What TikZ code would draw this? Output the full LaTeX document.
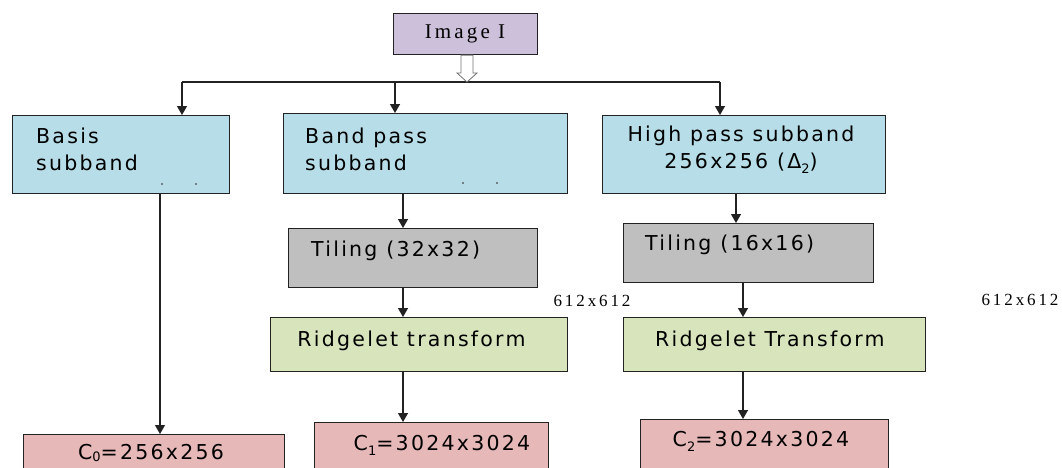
\documentclass[tikz,border=0pt]{standalone}
\usepackage{fontspec}
\usetikzlibrary{arrows.meta}
\newfontfamily\boxfont[LetterSpace=11]{DejaVu Sans}
\newfontfamily\serfont[LetterSpace=15]{Liberation Serif}
\newfontfamily\labfont[LetterSpace=17]{Liberation Serif}
\definecolor{bluebox}{HTML}{B7DEE8}
\definecolor{purplebox}{HTML}{CCC0DA}
\definecolor{greybox}{HTML}{BFBFBF}
\definecolor{greenbox}{HTML}{D7E4BC}
\definecolor{pinkbox}{HTML}{E6B9B8}
\definecolor{edge}{HTML}{222222}
\newcommand{\mysubs}[1]{\raisebox{-0.25em}{\fontsize{13}{13}\selectfont #1}}
\newcommand{\mysubslow}[1]{\raisebox{-0.12em}{\fontsize{13}{13}\selectfont #1}}
\begin{document}
\begin{tikzpicture}[x=1pt,y=-1pt,
  box/.style={draw=edge, line width=1.1pt, rectangle, inner sep=0pt, anchor=north west},
  txt/.style={inner sep=0pt, text=black, font=\boxfont\fontsize{20.5}{27}\selectfont},
  sertxt/.style={inner sep=0pt, text=black, font=\serfont\fontsize{21}{24}\selectfont},
  smalltxt/.style={inner sep=0pt, text=black, font=\labfont\fontsize{17}{19}\selectfont},
  arr/.style={draw=edge, line width=1.3pt, -{Triangle[length=9pt,width=10pt]}},
  plain/.style={draw=edge, line width=1.3pt},
  dotmark/.style={fill=edge, circle, inner sep=0pt, minimum size=1.8pt}]
\fill[white] (0,0) rectangle (1062,467);
\clip (0,0) rectangle (1062,467);

% boxes
\node[box, fill=purplebox, minimum width=144pt, minimum height=41pt] (img) at (393,13) {};
\node[box, fill=bluebox, minimum width=217pt, minimum height=78pt] (b1) at (12,115) {};
\node[box, fill=bluebox, minimum width=284pt, minimum height=80pt] (b2) at (283,113) {};
\node[box, fill=bluebox, minimum width=283pt, minimum height=78pt] (b3) at (602,115) {};
\node[box, fill=greybox, minimum width=249pt, minimum height=59pt] (t1) at (288,228) {};
\node[box, fill=greybox, minimum width=250pt, minimum height=59pt] (t2) at (623,223) {};
\node[box, fill=greenbox, minimum width=297pt, minimum height=54pt] (r1) at (270,317) {};
\node[box, fill=greenbox, minimum width=302pt, minimum height=54pt] (r2) at (623,317) {};
\node[box, fill=pinkbox, minimum width=261pt, minimum height=60pt] (c0) at (23,434) {};
\node[box, fill=pinkbox, minimum width=234pt, minimum height=60pt] (c1) at (314,422) {};
\node[box, fill=pinkbox, minimum width=248pt, minimum height=60pt] (c2) at (640,419) {};

% texts
\node[sertxt] (imgt) at (465,34) {Image I};
\node[txt, anchor=west, align=left] (b1t) at (36,149.5) {Basis\\subband};
\node[txt, anchor=west, align=left] (b2t) at (305,149) {Band pass\\subband};
\node[txt, align=center] (b3t) at (741,149.5) {High pass subband\\256x256 (Δ\mysubs{2})};
\node[txt, anchor=west] (t1t) at (311,251) {Tiling (32x32)};
\node[txt, anchor=west] (t2t) at (645,245) {Tiling (16x16)};
\node[txt] (r1t) at (411.5,341) {Ridgelet transform};
\node[txt, anchor=west] (r2t) at (655,341) {Ridgelet Transform};
\node[txt] (c0t) at (151,453) {C\mysubslow{0}=256x256};
\node[txt] (c1t) at (442,445) {C\mysubs{1}=3024x3024};
\node[txt] (c2t) at (761,441) {C\mysubs{2}=3024x3024};
\node[smalltxt] (lab1) at (592,301) {612x612};
\node[smalltxt] (lab2) at (1020,300) {612x612};

% small dots
\node[dotmark] (d1) at (162,184) {};
\node[dotmark] (d2) at (196,184) {};
\node[dotmark] (d3) at (463,183) {};
\node[dotmark] (d4) at (497,183) {};

% top hollow arrow and branch line
\coordinate (hub) at (467,82);
\coordinate (hl) at (182,82);
\coordinate (hm) at (395,82);
\coordinate (hr) at (720,82);
\draw[plain] (hl) -- (hr);
\draw[draw=black!55, line width=0.8pt, fill=white]
  ([xshift=-6pt]img.south -| hub) -- ([xshift=-6pt]hub |- 0,73) -- ([xshift=-10pt]hub |- 0,73)
  -- (hub) -- ([xshift=10pt]hub |- 0,73) -- ([xshift=6pt]hub |- 0,73)
  -- ([xshift=6pt]img.south -| hub) -- cycle;
\draw[arr] (hl) -- (hl |- b1.north);
\draw[arr] (hm) -- (hm |- b2.north);
\draw[arr] (hr) -- (hr |- b3.north);

% vertical connectors
\coordinate (x1) at (160,0);
\coordinate (x2) at (403,0);
\coordinate (x3) at (736,0);
\coordinate (x4) at (743,0);
\draw[arr] (b1.south -| x1) -- (c0.north -| x1);
\draw[arr] (b2.south -| x2) -- (t1.north -| x2);
\draw[arr] (t1.south -| x2) -- (r1.north -| x2);
\draw[arr] (r1.south -| x2) -- (c1.north -| x2);
\draw[arr] (b3.south -| x3) -- (t2.north -| x3);
\draw[arr] (t2.south -| x4) -- (r2.north -| x4);
\draw[arr] (r2.south -| x4) -- (c2.north -| x4);
\end{tikzpicture}
\end{document}
